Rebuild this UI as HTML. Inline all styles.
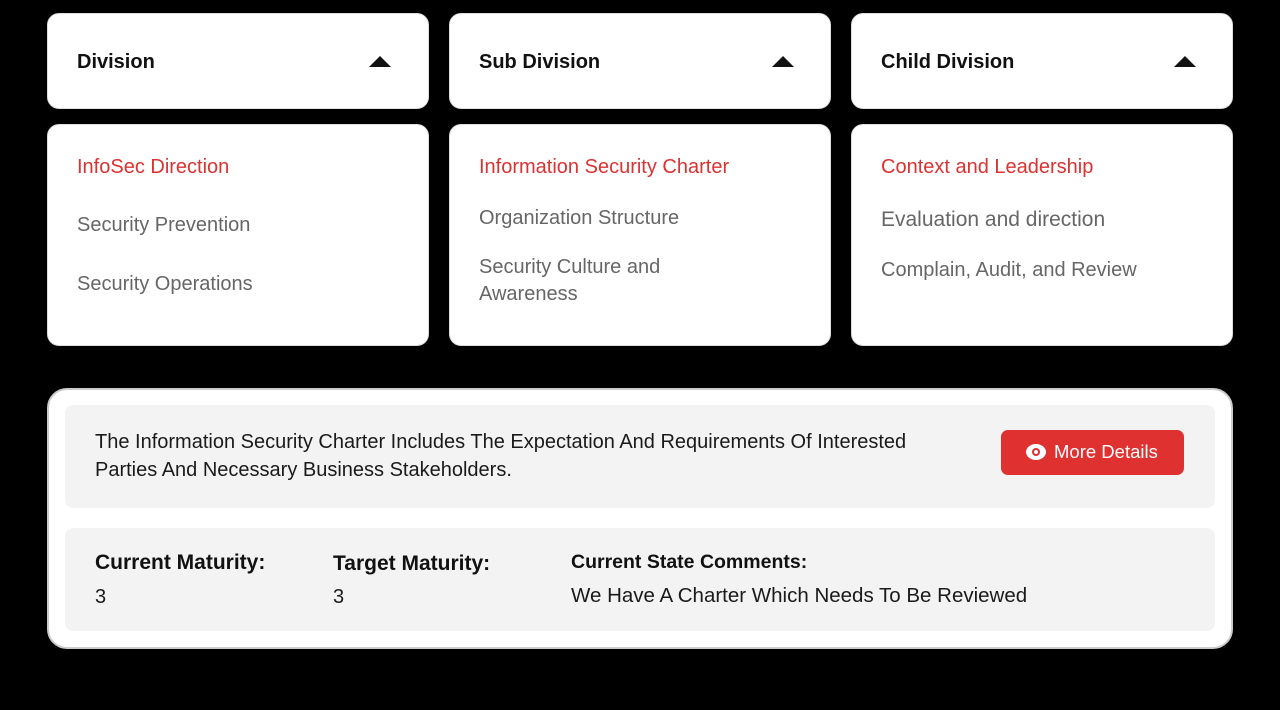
<!DOCTYPE html>
<html><head><style>
body{margin:0;width:1280px;height:710px;background:#000;position:relative;font-family:"Liberation Sans",sans-serif;overflow:hidden}
.c{position:absolute;background:#fff;border-radius:12px;border:1px solid #ddd;box-sizing:border-box}
.t{position:absolute;white-space:nowrap;line-height:1}
.h{font-size:20px;font-weight:bold;color:#111}
.i{font-size:20px;color:#666}
.r{color:#dc3232}
.tri{position:absolute;width:0;height:0;border-left:11px solid transparent;border-right:11px solid transparent;border-bottom:11px solid #111}
.g{position:absolute;background:#f3f3f3;border-radius:8px}
.d{font-size:20px;color:#1a1a1a}
</style></head><body>
<div class="c" style="left:47px;top:13px;width:382px;height:96px"></div>
<div class="c" style="left:449px;top:13px;width:382px;height:96px"></div>
<div class="c" style="left:851px;top:13px;width:382px;height:96px"></div>
<div class="t h" style="left:77px;top:52px">Division</div>
<div class="t h" style="left:479px;top:52px">Sub Division</div>
<div class="t h" style="left:881px;top:52px">Child Division</div>
<div class="tri" style="left:369px;top:56px"></div>
<div class="tri" style="left:772px;top:56px"></div>
<div class="tri" style="left:1174px;top:56px"></div>

<div class="c" style="left:47px;top:124px;width:382px;height:222px"></div>
<div class="c" style="left:449px;top:124px;width:382px;height:222px"></div>
<div class="c" style="left:851px;top:124px;width:382px;height:222px"></div>
<div class="t i r" style="left:77px;top:157px">InfoSec Direction</div>
<div class="t i" style="left:77px;top:215px">Security Prevention</div>
<div class="t i" style="left:77px;top:274px">Security Operations</div>
<div class="t i r" style="left:479px;top:157px">Information Security Charter</div>
<div class="t i" style="left:479px;top:208px">Organization Structure</div>
<div class="t i" style="left:479px;line-height:27px;white-space:normal;width:260px;top:254px">Security Culture and Awareness</div>
<div class="t i r" style="left:881px;top:157px">Context and Leadership</div>
<div class="t i" style="left:881px;top:209px;font-size:21px">Evaluation and direction</div>
<div class="t i" style="left:881px;top:260px">Complain, Audit, and Review</div>

<div class="c" style="left:47px;top:388px;width:1186px;height:261px;border-radius:20px;border:2px solid #ccc"></div>
<div class="g" style="left:65px;top:405px;width:1150px;height:103px"></div>
<div class="g" style="left:65px;top:528px;width:1150px;height:103px"></div>
<div class="t d" style="left:95px;top:428px;line-height:28px;white-space:normal;width:850px">The Information Security Charter Includes The Expectation And Requirements Of Interested Parties And Necessary Business Stakeholders.</div>
<div style="position:absolute;left:1001px;top:430px;width:183px;height:45px;background:#e03131;border-radius:7px"></div>
<svg style="position:absolute;left:1025px;top:443px" width="22" height="18" viewBox="0 0 22 18"><ellipse cx="11" cy="9" rx="10" ry="8" fill="#fff"/><circle cx="11" cy="9" r="4" fill="#e03131"/><circle cx="11" cy="9" r="2" fill="#fff"/></svg>
<div class="t" style="left:1054px;top:443px;font-size:18.5px;color:#fff">More Details</div>
<div class="t h" style="left:95px;top:552px;font-size:21px">Current Maturity:</div>
<div class="t h" style="left:333px;top:553px;font-size:21px">Target Maturity:</div>
<div class="t h" style="left:571px;top:553px;font-size:19.5px">Current State Comments:</div>
<div class="t d" style="left:95px;top:587px">3</div>
<div class="t d" style="left:333px;top:587px">3</div>
<div class="t d" style="left:571px;top:586px;font-size:20.5px">We Have A Charter Which Needs To Be Reviewed</div>
</body></html>
